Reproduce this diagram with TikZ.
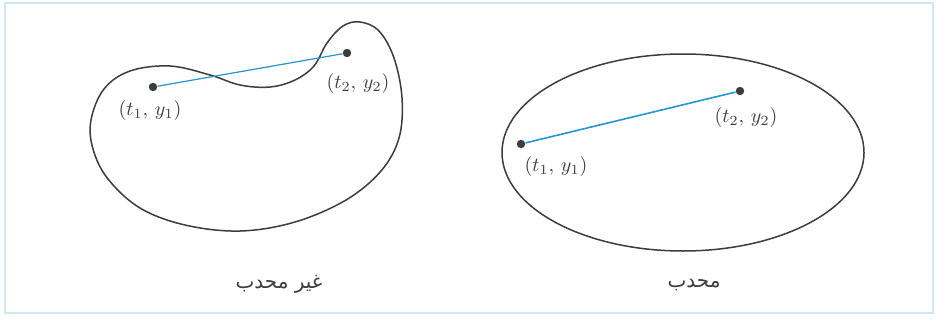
\documentclass[tikz,border=0pt]{standalone}
\usepackage{fontspec}
\newfontfamily\arabicfont[Script=Arabic]{DejaVu Sans}
\TeXXeTstate=1
\definecolor{framecyan}{RGB}{205,232,240}
\definecolor{segblue}{RGB}{35,150,210}
\definecolor{curvegray}{RGB}{60,60,60}

\begin{document}
\begin{tikzpicture}[x=0.5pt, y=-0.5pt,
  dot/.style={circle, fill=curvegray, inner sep=0pt, minimum size=4.2pt},
  lbl/.style={text=curvegray, inner sep=1pt},
  seg/.style={segblue, line width=0.8pt},
  outline/.style={curvegray, line width=0.75pt}]
  \useasboundingbox (0,0) rectangle (936,321);
  % Frame.
  \draw[framecyan, line width=1.3pt] (5,3) rectangle (933,313);
  % Left: non-convex kidney shape.
  \draw[outline] plot[smooth cycle, tension=0.6] coordinates {
    (91,120) (104,89) (130,71) (170,66) (210,75) (240,85) (270,87)
    (295,80) (314,66) (327,43) (343,26) (360,22) (379,31) (394,58)
    (402,98) (399,138) (381,171) (346,200) (295,222) (240,231)
    (185,225) (140,208) (108,179) (93,149)};
  \node[dot] (a1) at (153,87) {};
  \node[dot] (a2) at (347,53) {};
  \draw[seg, line width=0.6pt] (a1) -- (a2);
  \node[lbl] (la1) at (150,110) {$(t_1,\, y_1)$};
  \node[lbl] (la2) at (358,83) {$(t_2,\, y_2)$};
  \node[lbl] (capa) at (279,284) {\arabicfont\beginR غير محدب\endR};
  % Right: convex ellipse.
  \draw[outline] (683,152.5) ellipse [x radius=181, y radius=98.5];
  \node[dot] (b1) at (521,144) {};
  \node[dot] (b2) at (740,91) {};
  \draw[seg] (b1) -- (b2);
  \node[lbl] (lb1) at (556,166) {$(t_1,\, y_1)$};
  \node[lbl] (lb2) at (746,117) {$(t_2,\, y_2)$};
  \node[lbl] (capb) at (694,285) {\arabicfont\beginR محدب\endR};
\end{tikzpicture}
\end{document}
